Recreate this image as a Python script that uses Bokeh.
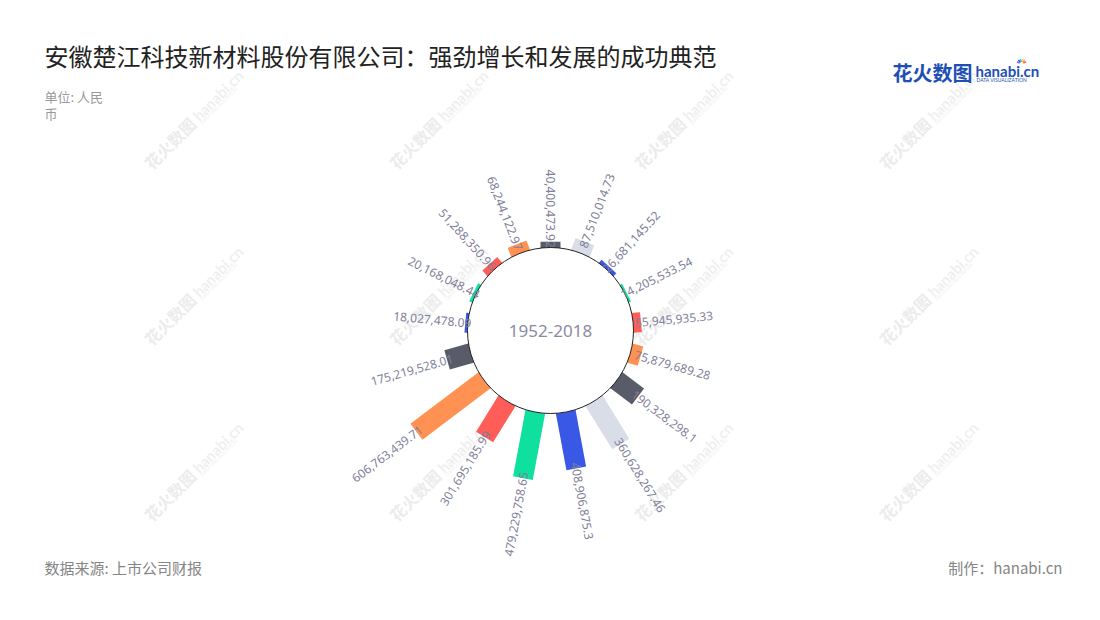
import math
from bokeh.plotting import figure
from bokeh.models import Range1d, ColumnDataSource
from bokeh.core.properties import value
from bokeh.embed import file_html
from bokeh.resources import INLINE

# ---------------- data ----------------
title_text = "安徽楚江科技新材料股份有限公司：强劲增长和发展的成功典范"
unit_lines = ["单位: 人民", "币"]
source_text = "数据来源: 上市公司财报"
maker_text = "制作：hanabi.cn"
center_label = "1952-2018"

# values clockwise from the top
values = [40400473.92, 87510014.73, 26681145.52, 14205533.54, 55945935.33,
          75879689.28, 190328298.1, 360628267.46, 408906875.3, 479229758.65,
          301695185.99, 606763439.71, 175219528.01, 18027478.09, 20168048.44,
          51288350.96, 68244122.97]
labels = ["40,400,473.92", "87,510,014.73", "26,681,145.52", "14,205,533.54",
          "55,945,935.33", "75,879,689.28", "190,328,298.1", "360,628,267.46",
          "408,906,875.3", "479,229,758.65", "301,695,185.99", "606,763,439.71",
          "175,219,528.01", "18,027,478.09", "20,168,048.44", "51,288,350.96",
          "68,244,122.97"]
DG, LG, BL, GR, RD, OR = "#5a5b69", "#d9dde7", "#3a58e6", "#10e09e", "#ff5d57", "#ff9152"
bar_colors = [DG, LG, BL, GR, RD, OR, DG, LG, BL, GR, RD, OR, DG, BL, GR, RD, OR]

# ---------------- geometry ----------------
W, H = 1084, 604
def sy(y):  # screen y -> data y
    return 620 - y

CX, CY = 550, sy(330)
R0 = 83.0
PX_PER_UNIT = 85.0 / 606763439.71
BAR_W = 20
LABEL_INSET = 6

n = len(values)
xs, ys, lens, angs = [], [], [], []
lx, ly, la, lal = [], [], [], []
for i, v in enumerate(values):
    th = math.pi / 2 - i * 2 * math.pi / n
    L = v * PX_PER_UNIT
    r_in = R0 - 2
    r_out = R0 + L
    rc = (r_in + r_out) / 2
    xs.append(CX + rc * math.cos(th))
    ys.append(CY + rc * math.sin(th))
    lens.append(r_out - r_in)
    angs.append(th)
    ra = r_out - LABEL_INSET
    lx.append(CX + ra * math.cos(th))
    ly.append(CY + ra * math.sin(th))
    if math.cos(th) > 1e-6:
        la.append(th)
        lal.append("left")
    else:
        la.append(th - math.pi)
        lal.append("right")

bars = ColumnDataSource(dict(x=xs, y=ys, w=lens, a=angs, c=bar_colors))
labs = ColumnDataSource(dict(x=lx, y=ly, t=labels, a=la, al=lal))

p = figure(width=W, height=H, output_backend="svg", toolbar_location=None,
           x_range=Range1d(0, W), y_range=Range1d(620 - H, 620),
           min_border=0)
p.axis.visible = False
p.grid.visible = False
p.outline_line_color = None
p.background_fill_color = "white"
p.border_fill_color = "white"

FONT = value("Noto Sans CJK SC")

# ---------------- watermarks ----------------
wm_x = [182, 427, 672, 917]
wm_y = [130, 306, 482]
d = math.sqrt(0.5)
for wx in wm_x:
    for wy in wm_y:
        sx0, sy0 = wx - 50 * d, sy(wy) - 50 * d
        p.text(x=[sx0], y=[sy0], text=["花火数图"], angle=math.pi / 4,
               text_font=FONT, text_font_size="16px", text_font_style="bold",
               text_color="#ececec", text_align="left", text_baseline="middle")
        hx, hy = sx0 + 68 * d, sy0 + 68 * d
        p.text(x=[hx], y=[hy], text=["hanabi.cn"], angle=math.pi / 4,
               text_font=value("Lato"), text_font_size="15px", text_font_style="bold",
               text_color="#efefef", text_align="left", text_baseline="middle")
        p.text(x=[hx + 8 * d], y=[hy - 8 * d], text=["DATA VISUALIZATION"], angle=math.pi / 4,
               text_font=value("Lato"), text_font_size="5px",
               text_color="#f1f1f1", text_align="left", text_baseline="middle")

# ---------------- bars ----------------
p.rect(x="x", y="y", width="w", height=BAR_W, angle="a", fill_color="c",
       line_color=None, source=bars)

# inner circle
p.circle(x=[CX], y=[CY], radius=R0, fill_color="white", line_color="#222222",
         line_width=1)

p.text(x=[CX], y=[CY], text=[center_label], text_font=value("Noto Sans"),
       text_font_size="17px", text_color="#8b8b9f", text_align="center",
       text_baseline="middle")

# labels
p.text(x="x", y="y", text="t", angle="a", text_align="al", source=labs,
       text_font=value("Noto Sans"), text_font_size="12px",
       text_color="#80809a", text_baseline="middle")

# ---------------- titles / footers ----------------
p.text(x=[44], y=[sy(55)], text=[title_text], text_font=FONT,
       text_font_size="24px", text_color="#222222", text_baseline="middle")
for k, line in enumerate(unit_lines):
    p.text(x=[44], y=[sy(96 + 17 * k)], text=[line], text_font=FONT,
           text_font_size="13px", text_color="#999999", text_baseline="middle")
p.text(x=[44], y=[sy(567)], text=[source_text], text_font=FONT,
       text_font_size="15px", text_color="#858585", text_baseline="middle")
p.text(x=[1062], y=[sy(567)], text=[maker_text], text_font=FONT,
       text_font_size="15px", text_color="#858585", text_align="right",
       text_baseline="middle")

# ---------------- logo ----------------
p.text(x=[892], y=[sy(72)], text=["花火数图"], text_font=FONT,
       text_font_size="20px", text_font_style="bold", text_color="#1e4fb4",
       text_baseline="middle")
p.text(x=[975], y=[sy(70)], text=["hanabi.cn"], text_font=value("Lato"),
       text_font_size="15px", text_font_style="bold", text_color="#1e4fb4",
       text_baseline="middle")
p.text(x=[976], y=[sy(79.5)], text=["DATA VISUALIZATION"], text_font=value("Lato"),
       text_font_size="5px", text_color="#1e4fb4", text_baseline="middle")
ray_cols = ["#ff5d57", "#ff9152", "#ffd24a", "#10e09e", "#3a58e6", "#9b59ff"]
for j, rc in enumerate(ray_cols):
    ang = math.pi * (0.15 + 0.7 * j / (len(ray_cols) - 1))
    x0, y0 = 1021, sy(63.5)
    p.segment(x0=[x0 + 2 * math.cos(ang)], y0=[y0 + 2 * math.sin(ang)],
              x1=[x0 + 5 * math.cos(ang)], y1=[y0 + 5 * math.sin(ang)],
              line_color=rc, line_width=1.5)

open("out.html", "w").write(file_html(p, INLINE))
